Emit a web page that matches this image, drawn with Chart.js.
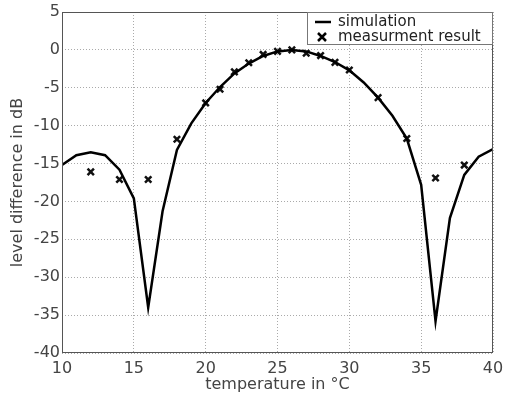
<!DOCTYPE html>
<html>
<head>
<meta charset="utf-8">
<script src="https://cdn.jsdelivr.net/npm/chart.js@4/dist/chart.umd.min.js"></script>
<style>
  html, body { margin: 0; padding: 0; background: #fff; }
  #wrap { width: 508px; height: 398px; }
</style>
</head>
<body>
<div id="wrap"><canvas id="chart" width="508" height="398"></canvas></div>
<script>
// simulation curve, one value per degree
const simTemps = [10, 11, 12, 13, 14, 15, 16, 17, 18, 19, 20, 21, 22, 23, 24, 25,
  26, 27, 28, 29, 30, 31, 32, 33, 34, 35, 36, 37, 38, 39, 40];
const simValues = [-15.2, -13.9, -13.5, -13.9, -15.8, -19.6, -34.0, -21.3, -13.2, -9.7,
  -7.0, -4.9, -3.1, -1.8, -0.8, -0.2, 0.0, -0.2, -0.8, -1.6, -2.7, -4.3, -6.3, -8.7,
  -11.7, -17.8, -35.8, -22.2, -16.5, -14.1, -13.1];

// measured points
const measTemps = [12, 14, 16, 18, 20, 21, 22, 23, 24, 25, 26, 27, 28, 29, 30, 32, 34, 36, 38];
const measValues = [-16.1, -17.1, -17.1, -11.8, -7.0, -5.2, -2.9, -1.7, -0.6, -0.2, 0.0,
  -0.45, -0.75, -1.65, -2.65, -6.3, -11.7, -16.9, -15.2];

const xTicks = [10, 15, 20, 25, 30, 35, 40];
const yTicks = [5, 0, -5, -10, -15, -20, -25, -30, -35, -40];

const FONT = 'DejaVu Sans';
const TXT = '#444';

const frameAndLegend = {
  id: 'frameAndLegend',
  afterDraw(chart) {
    const { ctx, chartArea: a } = chart;
    ctx.save();
    ctx.strokeStyle = '#555';
    ctx.lineWidth = 1;
    ctx.strokeRect(a.left + 0.5, a.top + 0.5, a.right - a.left - 1, a.bottom - a.top - 1);

    // legend box top right
    const w = 186, h = 33;
    const lx = a.right - w, ly = a.top;
    ctx.fillStyle = '#fff';
    ctx.fillRect(lx, ly, w, h);
    ctx.strokeStyle = '#777';
    ctx.strokeRect(lx + 0.5, ly + 0.5, w - 1, h - 1);

    ctx.strokeStyle = '#000';
    ctx.lineWidth = 2.5;
    ctx.beginPath();
    ctx.moveTo(lx + 8, ly + 10);
    ctx.lineTo(lx + 24, ly + 10);
    ctx.stroke();

    const cx = lx + 15, cy = ly + 25;
    ctx.beginPath();
    ctx.moveTo(cx - 4, cy - 4); ctx.lineTo(cx + 4, cy + 4);
    ctx.moveTo(cx + 4, cy - 4); ctx.lineTo(cx - 4, cy + 4);
    ctx.stroke();

    ctx.fillStyle = '#222';
    ctx.font = '15px "' + FONT + '"';
    ctx.textBaseline = 'middle';
    ctx.fillText('simulation', lx + 31, ly + 10);
    ctx.fillText('measurment result', lx + 31, ly + 25);
    ctx.restore();
  }
};

new Chart(document.getElementById('chart'), {
  type: 'line',
  data: {
    datasets: [{
      label: 'simulation',
      data: simTemps.map((t, i) => ({ x: t, y: simValues[i] })),
      borderColor: '#000',
      borderWidth: 2.5,
      pointRadius: 0,
      tension: 0,
      fill: false
    }, {
      label: 'measurment result',
      data: measTemps.map((t, i) => ({ x: t, y: measValues[i] })),
      showLine: false,
      pointStyle: 'crossRot',
      pointRadius: 4.5,
      pointBorderWidth: 2.5,
      pointBorderColor: '#111',
      pointBackgroundColor: '#111'
    }]
  },
  options: {
    responsive: false,
    animation: false,
    layout: { padding: { top: 12, right: 15, left: 0, bottom: 0 } },
    plugins: {
      legend: { display: false },
      tooltip: { enabled: false }
    },
    scales: {
      x: {
        type: 'linear',
        min: 10,
        max: 40,
        afterBuildTicks: (s) => { s.ticks = xTicks.map(v => ({ value: v })); },
        afterFit: (s) => { s.height = 45; s.paddingLeft = 0; s.paddingRight = 0; },
        grid: { color: '#aaa', tickLength: 0, drawTicks: false },
        border: { display: false, dash: [1, 2] },
        ticks: { color: TXT, font: { family: FONT, size: 16 }, padding: 6, maxRotation: 0 },
        title: { display: true, text: 'temperature in °C', color: TXT,
          font: { family: FONT, size: 16 }, padding: { top: 0, bottom: 4 } }
      },
      y: {
        type: 'linear',
        min: -40,
        max: 5,
        afterBuildTicks: (s) => { s.ticks = yTicks.map(v => ({ value: v })); },
        afterFit: (s) => { s.width = 62; },
        grid: { color: '#aaa', tickLength: 0, drawTicks: false },
        border: { display: false, dash: [1, 2] },
        ticks: { color: TXT, font: { family: FONT, size: 16 }, padding: 2 },
        title: { display: true, text: 'level difference in dB', color: TXT,
          font: { family: FONT, size: 16 }, padding: { top: 8, bottom: 0 } }
      }
    }
  },
  plugins: [frameAndLegend]
});
</script>
</body>
</html>
